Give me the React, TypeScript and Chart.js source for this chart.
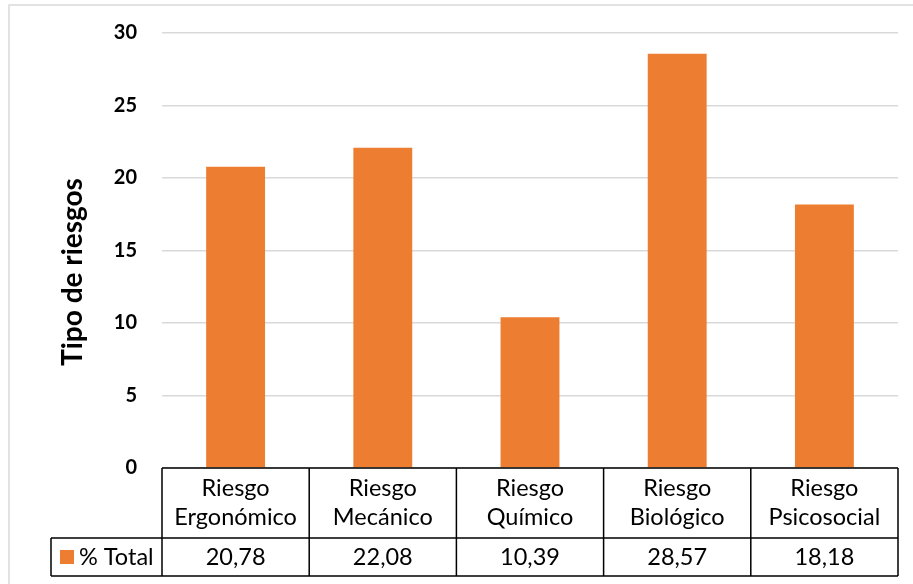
import React, { useEffect, useRef } from "react";
import { Chart, registerables } from "chart.js";

Chart.register(...registerables);

const categories: string[][] = [
  ["Riesgo", "Ergonómico"],
  ["Riesgo", "Mecánico"],
  ["Riesgo", "Químico"],
  ["Riesgo", "Biológico"],
  ["Riesgo", "Psicosocial"],
];
const seriesName = "% Total";
const values: number[] = [20.78, 22.08, 10.39, 28.57, 18.18];
const yTicks: number[] = [0, 5, 10, 15, 20, 25, 30];
const yTitle = "Tipo de riesgos";

const FONT = "Lato, 'Open Sans', sans-serif";
const BAR = "#ED7D31";

const tablePlugin = {
  id: "dataTable",
  afterDraw(chart: any) {
    const ctx = chart.ctx as CanvasRenderingContext2D;
    const xs = chart.scales.x;
    const area = chart.chartArea;
    const n = categories.length;
    const step = (area.right - area.left) / n;
    const top = area.bottom;
    const mid = top + 70;
    const bot = mid + 38;
    const legendLeft = 51;
    ctx.save();
    // outer frame
    ctx.strokeStyle = "#d9d9d9";
    ctx.lineWidth = 1.5;
    ctx.strokeRect(9, 5, 1000, 1000);

    // table lines
    ctx.strokeStyle = "#000";
    ctx.lineWidth = 1.5;
    ctx.beginPath();
    ctx.moveTo(area.left, top);
    ctx.lineTo(area.right, top);
    ctx.moveTo(legendLeft, mid);
    ctx.lineTo(area.right, mid);
    ctx.moveTo(legendLeft, bot);
    ctx.lineTo(area.right, bot);
    ctx.moveTo(legendLeft, mid);
    ctx.lineTo(legendLeft, bot);
    for (let i = 0; i <= n; i++) {
      const c = i < n ? xs.getPixelForValue(i) - step / 2 : xs.getPixelForValue(n - 1) + step / 2;
      ctx.moveTo(c, top);
      ctx.lineTo(c, bot);
    }
    ctx.stroke();

    // header texts
    ctx.fillStyle = "#000";
    ctx.textAlign = "center";
    ctx.textBaseline = "middle";
    ctx.font = `23.5px ${FONT}`;
    categories.forEach((lines, i) => {
      const cx = xs.getPixelForValue(i);
      ctx.fillText(lines[0], cx, top + 20);
      ctx.fillText(lines[1], cx, top + 49);
      ctx.fillText(values[i].toFixed(2).replace(".", ","), cx, mid + 19);
    });

    // legend key
    ctx.fillStyle = BAR;
    ctx.fillRect(60, mid + 12, 14, 14);
    ctx.fillStyle = "#000";
    ctx.textAlign = "left";
    ctx.fillText(seriesName, 79, mid + 19);

    // y title
    ctx.font = `bold 28px ${FONT}`;
    ctx.textAlign = "center";
    ctx.translate(72.5, 272);
    ctx.rotate(-Math.PI / 2);
    ctx.fillText(yTitle, 0, 0);
    ctx.restore();
  },
};

export default function App() {
  const ref = useRef<HTMLCanvasElement | null>(null);
  useEffect(() => {
    if (!ref.current) return;
    const chart = new Chart(ref.current, {
      type: "bar",
      data: {
        labels: categories.map((c) => c.join(" ")),
        datasets: [
          {
            label: seriesName,
            data: values,
            backgroundColor: BAR,
            barPercentage: 0.8,
            categoryPercentage: 0.5,
          },
        ],
      },
      options: {
        responsive: false,
        animation: false,
        layout: { padding: { left: 0, right: 15, top: 33, bottom: 116 } },
        plugins: { legend: { display: false }, tooltip: { enabled: false } },
        scales: {
          x: { display: false },
          y: {
            min: 0,
            max: 30,
            afterFit: (s: any) => {
              s.width = 162;
              s.paddingTop = 0;
              s.paddingBottom = 0;
            },
            afterBuildTicks: (s: any) => {
              s.ticks = yTicks.map((v) => ({ value: v }));
            },
            ticks: {
              padding: 25,
              color: "#000",
              font: { family: FONT, size: 20, weight: "bold" },
            },
            grid: { color: "#d9d9d9", lineWidth: 1.5, drawTicks: false },
            border: { display: false },
          },
        },
      },
      plugins: [tablePlugin],
    });
    return () => chart.destroy();
  }, []);
  return (
    <div style={{ position: "fixed", left: 0, top: 0, width: 913, height: 584, background: "#fff" }}>
      <canvas ref={ref} width={913} height={584} />
    </div>
  );
}
